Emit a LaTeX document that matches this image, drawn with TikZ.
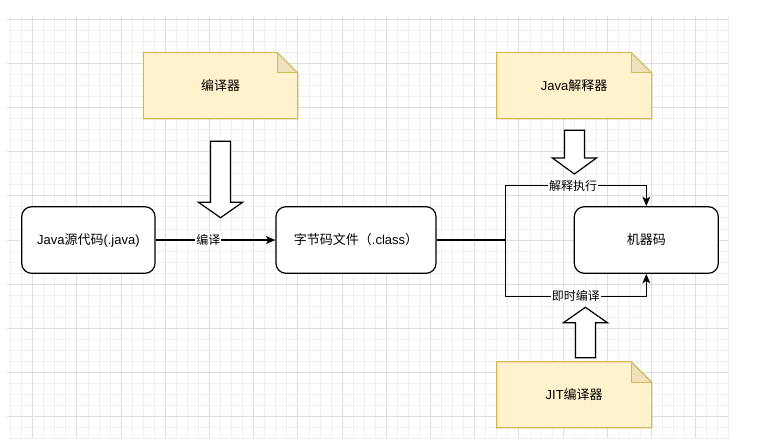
\documentclass[tikz,border=0pt]{standalone}
\usepackage{fontspec}
\setmainfont{Liberation Sans}
\newfontfamily\cjk{Noto Sans CJK SC}
\usetikzlibrary{arrows.meta}
\definecolor{gridminor}{RGB}{241,240,237}
\definecolor{gridmajor}{RGB}{223,221,216}
\definecolor{notefill}{HTML}{FFF2CC}
\definecolor{notedraw}{HTML}{D6B656}
\definecolor{foldfill}{HTML}{EFE1BA}
\newcommand\mynote[6]{%
  \fill[notefill] (#2,#3) -- ({#4-20.5},#3) -- (#4,{#3+20.5}) -- (#4,#5) -- (#2,#5) -- cycle;
  \fill[foldfill] ({#4-20.5},#3) -- ({#4-20.5},{#3+20.5}) -- (#4,{#3+20.5}) -- cycle;
  \draw[notedraw, line width=1.1pt, line join=miter] (#2,#3) -- ({#4-20.5},#3) -- (#4,{#3+20.5}) -- (#4,#5) -- (#2,#5) -- cycle;
  \draw[notedraw, line width=1.1pt] ({#4-20.5},#3) -- ({#4-20.5},{#3+20.5}) -- (#4,{#3+20.5});
  \node[notetext] (#1) at ({(#2+#4)/2},{(#3+#5)/2}) {#6};
}
\begin{document}
\begin{tikzpicture}[x=1pt,y=-1pt,
  box/.style={draw, line width=1.2pt, rounded corners=10pt, fill=white,
    minimum height=66.6pt, inner sep=0pt, font=\fontsize{13}{15}\selectfont},
  notetext/.style={inner sep=0pt, font=\fontsize{13}{15}\selectfont},
  lbl/.style={fill=white, inner sep=1pt, font=\fontsize{12}{14}\selectfont\cjk},
  conn/.style={line width=1.1pt, -{Stealth[length=9.5pt,width=8pt,inset=2.5pt]}},
  blockarrow/.style={draw, fill=white, line width=1.2pt, line join=miter},
  gmin/.style={draw=gridminor, line width=0.9pt},
  gmaj/.style={draw=gridmajor, line width=0.9pt}]
\useasboundingbox (0,0) rectangle (759,445);
\fill[white] (0,0) rectangle (759,445);
% grid
\begin{scope}
  \clip (7,16) rectangle (729,438);
  \foreach \i in {-3,...,64}{\draw[gmin] ({32.7+\i*11.05},16) -- ++(0,422);}
  \foreach \j in {-1,...,38}{\draw[gmin] (7,{19+\j*11.05}) -- ++(722,0);}
  \foreach \i in {-1,...,16}{\draw[gmaj] ({32.7+\i*44.2},16) -- ++(0,422);}
  \foreach \j in {-1,...,10}{\draw[gmaj] (7,{19+\j*44.2}) -- ++(722,0);}
\end{scope}
% notes
\mynote{n1}{143.3}{52.3}{297.7}{118.7}{{\cjk 编译器}}
\mynote{n2}{496.7}{52.3}{651.7}{118.7}{Java{\cjk 解释器}}
\mynote{n3}{496.7}{361.7}{651.7}{427.7}{JIT{\cjk 编译器}}
% block arrows
\draw[blockarrow] (210.5,141.3) -- (230.5,141.3) -- (230.5,202.3) -- (242.5,202.3)
  -- (220.5,217.7) -- (198.5,202.3) -- (210.5,202.3) -- cycle;
\draw[blockarrow] (564.4,130.3) -- (584.4,130.3) -- (584.4,158) -- (596.4,158)
  -- (574.4,174) -- (552.4,158) -- (564.4,158) -- cycle;
\draw[blockarrow] (575.4,357.7) -- (595.4,357.7) -- (595.4,322.7) -- (607.4,322.7)
  -- (585.4,307.3) -- (563.4,322.7) -- (575.4,322.7) -- cycle;
% boxes
\node[box, minimum width=133.3pt] (A) at (88.35,240) {Java{\cjk 源代码}(.java)};
\node[box, minimum width=160pt] (B) at (356,240) {{\cjk 字节码文件（}.class{\cjk ）}};
\node[box, minimum width=144pt] (C) at (646.3,240) {{\cjk 机器码}};
% connectors
\coordinate (split) at (505.5,240);
\draw[conn] (A.east) -- (B.west) node[lbl, pos=0.44] (l1) {编译};
\draw[conn] (B.east) -- (split) |- ([yshift=21pt]C.north) -- (C.north);
\draw[conn] (B.east) -- (split) |- ([yshift=-22.4pt]C.south) -- (C.south);
\node[lbl] (l2) at (573,185.7) {解释执行};
\node[lbl] (l3) at (575.8,295.7) {即时编译};
\end{tikzpicture}
\end{document}
